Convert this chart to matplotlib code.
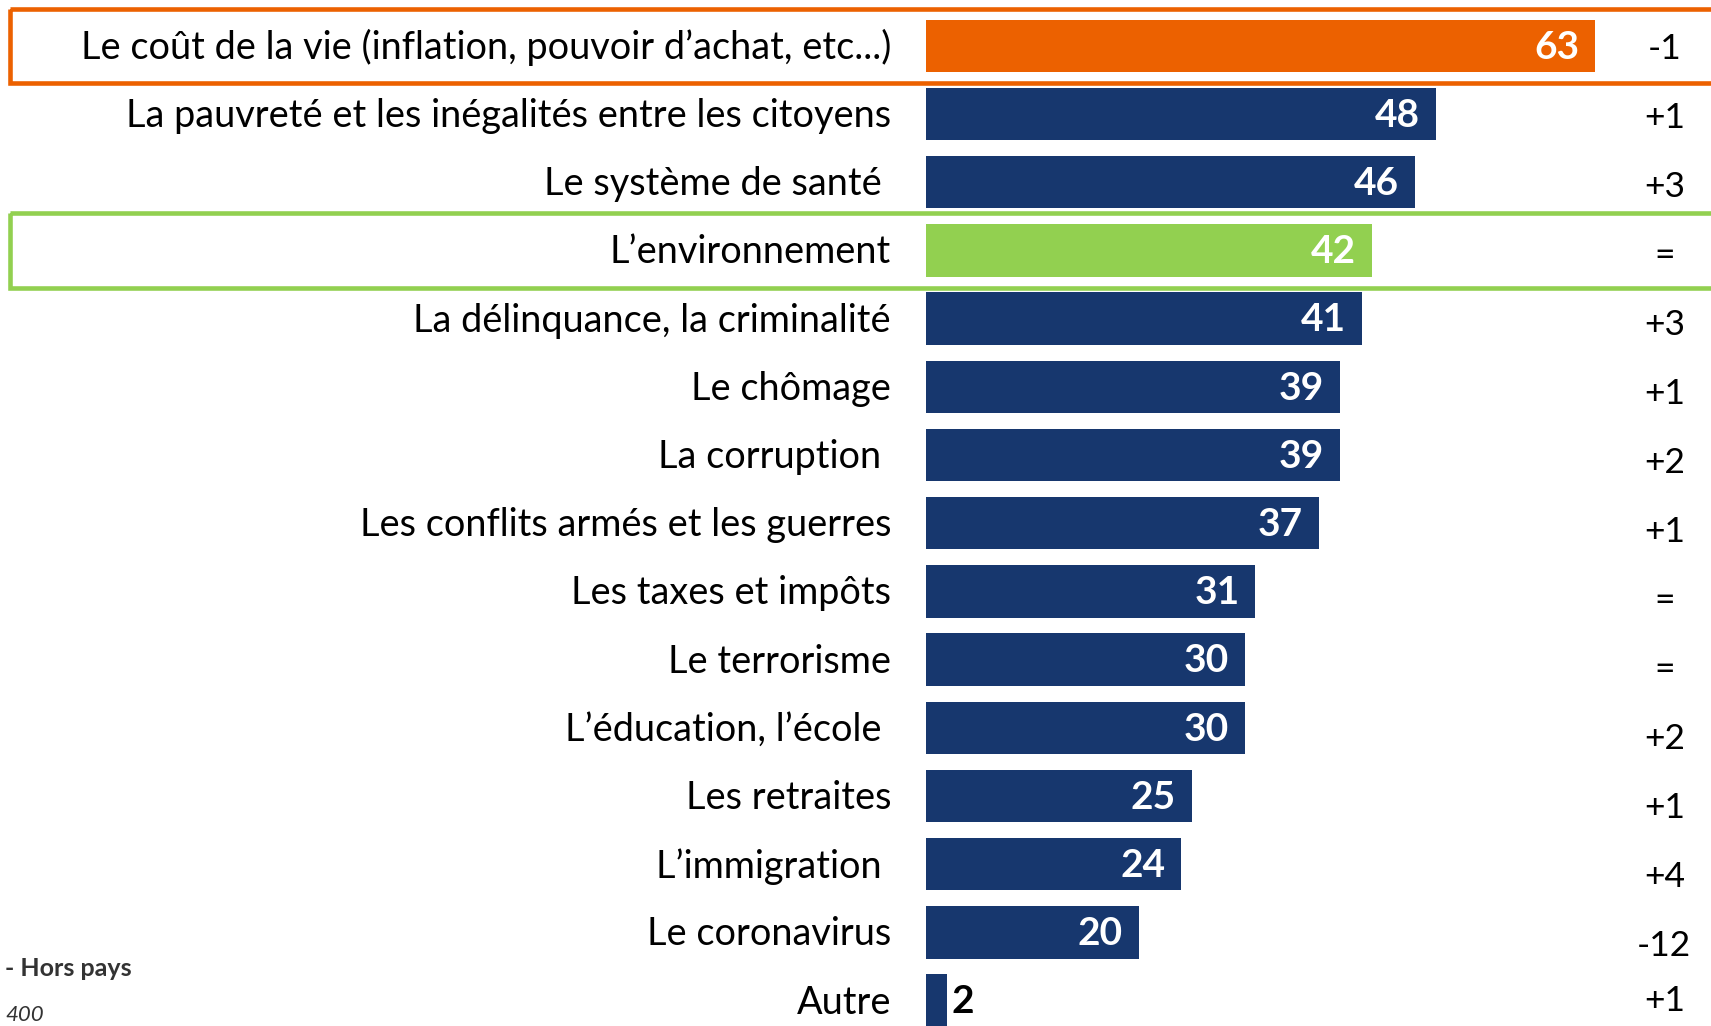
import matplotlib.pyplot as plt
from matplotlib.patches import Rectangle

labels = [
    "Le coût de la vie (inflation, pouvoir d\u2019achat, etc...)",
    "La pauvreté et les inégalités entre les citoyens",
    "Le système de santé ",
    "L\u2019environnement",
    "La délinquance, la criminalité",
    "Le chômage",
    "La corruption ",
    "Les conflits armés et les guerres",
    "Les taxes et impôts",
    "Le terrorisme",
    "L\u2019éducation, l\u2019école ",
    "Les retraites",
    "L\u2019immigration ",
    "Le coronavirus",
    "Autre",
]
values = [63, 48, 46, 42, 41, 39, 39, 37, 31, 30, 30, 25, 24, 20, 2]
changes = ["-1", "+1", "+3", "=", "+3", "+1", "+2", "+1", "=", "=", "+2", "+1", "+4", "-12", "+1"]

NAVY = "#17376e"
ORANGE = "#ec6100"
GREEN = "#92d050"
colors = [NAVY] * len(values)
colors[0] = ORANGE
colors[3] = GREEN

fig = plt.figure(figsize=(17.11, 10.26), dpi=100)
ax = fig.add_axes([0, 0, 1, 1])
ax.set_xlim(-87.2, 73.9)
ax.set_ylim(14.373, -0.672)
ax.axis("off")

ys = list(range(len(values)))
ax.barh(ys, values, height=0.768, color=colors)

lab_font = "Lato"
for y, lab, v, ch in zip(ys, labels, values, changes):
    ax.text(-3.3, y + 0.03, lab, ha="right", va="center", fontsize=27.3, family=lab_font)
    if v >= 10:
        ax.text(v - 1.5, y + 0.02, str(v), ha="right", va="center", fontsize=28,
                fontweight="bold", color="white", family=lab_font)
    else:
        ax.text(v + 0.4, y + 0.02, str(v), ha="left", va="center", fontsize=28,
                fontweight="bold", color="black", family=lab_font)
    # change column drifts slightly downward in the original slide
    ax.text(69.5, min(y + 0.05 + 0.011 * y, 14.0), ch, ha="center", va="center",
            fontsize=25.5, family=lab_font)

# highlight boxes
for row, col in [(0, ORANGE), (3, GREEN)]:
    ax.add_patch(Rectangle((-86.3, row - 0.545), 170, 1.09, fill=False,
                           edgecolor=col, linewidth=3.3, clip_on=False))

fig.text(0.003, 0.056, "- Hors pays", fontsize=18, fontweight="bold",
         color="#333333", family=lab_font, va="center")
fig.text(0.003, 0.001, "400", fontsize=16, style="italic", color="#333333",
         family=lab_font, va="bottom")

fig.savefig("out.png", dpi=100)
